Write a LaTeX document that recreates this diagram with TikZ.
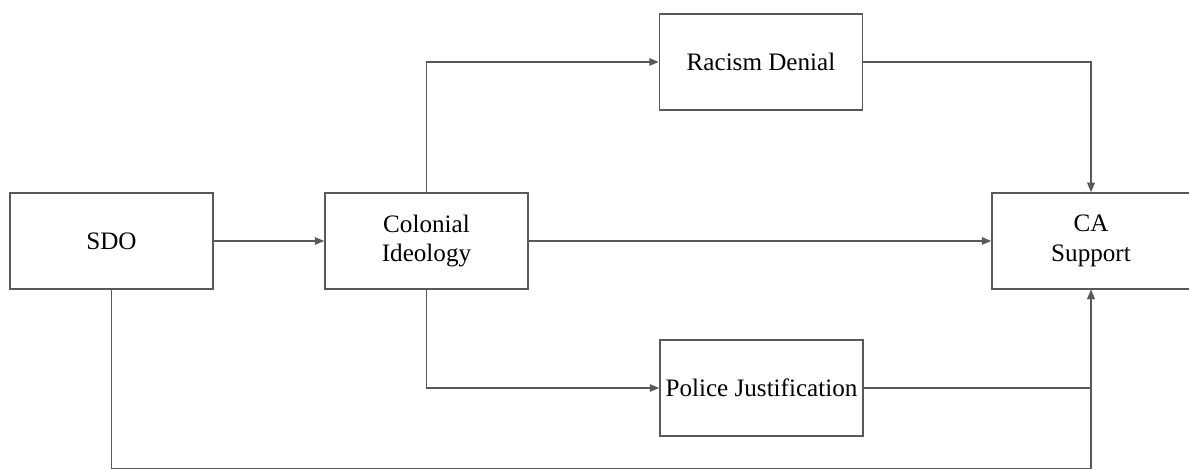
\documentclass[tikz,border=0pt]{standalone}
\usepackage{fontspec}
\setmainfont{Liberation Serif}
\usetikzlibrary{arrows.meta}

\begin{document}
\begin{tikzpicture}[
    box/.style={draw=black!65, line width=0.85pt, minimum width=4.06cm, minimum height=1.92cm,
                align=center, font=\fontsize{14.3}{17}\selectfont, inner sep=2pt},
    link/.style={draw=black!65, line width=0.85pt, -{Triangle[length=1.9mm,width=1.5mm]}}]

    \useasboundingbox (0,0) rectangle (23.78,9.42);

    \node [box] (sdo) at (2.23,4.6) {SDO};
    \node [box] (colonial) at (8.53,4.6) {Colonial\\Ideology};
    \node [box] (denial) at (15.22,8.18) {Racism Denial};
    \node [box] (police) at (15.23,1.66) {Police Justification};
    \node [box, minimum width=3.96cm] (ca) at (21.82,4.6) {CA\\Support};
    \coordinate (low) at (0,0.05);

    \draw [link] (sdo) -- (colonial);
    \draw [link] (colonial) -- (ca);
    \draw [link] (colonial.north) |- (denial.west);
    \draw [link] (colonial.south) |- (police.west);
    \draw [link] (denial.east) -| (ca.north);
    \draw [link] (police.east) -| (ca.south);
    \draw [link] (sdo.south) -- (sdo.south |- low) -| (ca.south);

\end{tikzpicture}
\end{document}
